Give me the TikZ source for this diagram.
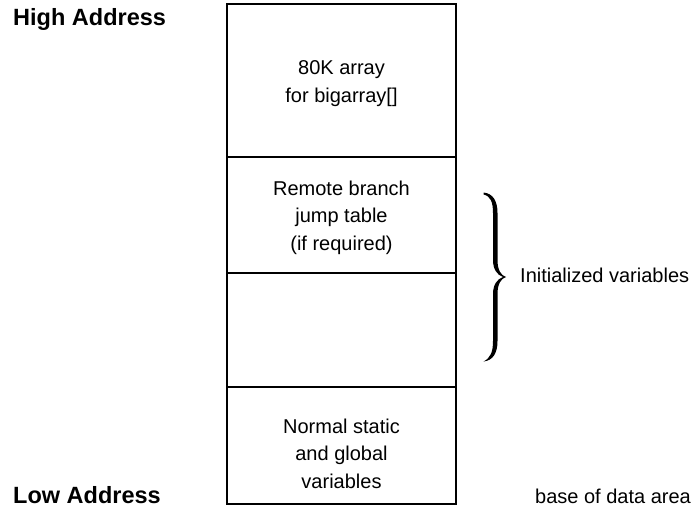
\documentclass[tikz,border=0pt]{standalone}
\usepackage{fontspec}
\setmainfont{Liberation Sans}
\begin{document}
\begin{tikzpicture}[x=1pt,y=-1pt,
  boxline/.style={line width=1.3pt},
  boxtext/.style={align=center,anchor=base,inner sep=0pt,font=\fontsize{20}{27.5}\selectfont},
  sidetext/.style={anchor=base west,inner sep=0pt,font=\fontsize{20}{24}\selectfont},
  addr/.style={anchor=base west,inner sep=0pt,font=\fontsize{23.5}{27}\selectfont\bfseries}]
\useasboundingbox (0,0) rectangle (696,511);
% memory column
\draw[boxline] (227,4) rectangle (456,504);
\draw[boxline] (227,157) -- (456,157);
\draw[boxline] (227,273) -- (456,273);
\draw[boxline] (227,387) -- (456,387);
% texts in the column (anchor = baseline of last line)
\node[boxtext] (big) at (341.5,102) {80K array\\for bigarray[]};
\node[boxtext] (jump) at (341.5,250) {Remote branch\\jump table\\(if required)};
\node[boxtext] (norm) at (341.5,488) {Normal static\\and global\\variables};
% addresses
\node[addr] (high) at (13,26) {High Address};
\node[addr] (low) at (13,503) {Low Address};
% right side
\node[sidetext] (init) at (520,282) {Initialized variables};
\node[sidetext] (base) at (535,503) {base of data area};
% brace
\fill (483.5,192.5) .. controls (493,193.5) and (497.5,201) .. (497.5,213)
  -- (497.5,260) .. controls (497.5,270) and (501,275.5) .. (506,277)
  .. controls (501,278.5) and (497.5,284) .. (497.5,294)
  -- (497.5,341) .. controls (497.5,353) and (493,360.5) .. (483.5,361.5)
  .. controls (490.5,358) and (493,352) .. (493,341)
  -- (493,294) .. controls (493,285) and (497,279) .. (503,277)
  .. controls (497,275) and (493,269) .. (493,260)
  -- (493,213) .. controls (493,202) and (490.5,196) .. (483.5,194.5) -- cycle;
\end{tikzpicture}
\end{document}
